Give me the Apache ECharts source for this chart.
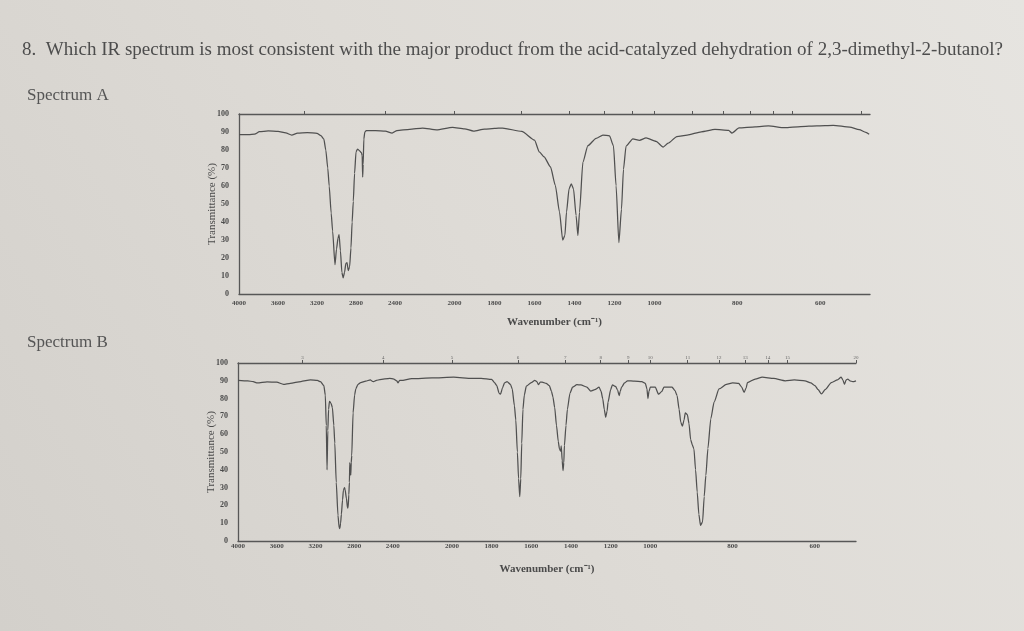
<!DOCTYPE html>
<html>
<head>
<meta charset="utf-8">
<script src="https://cdn.jsdelivr.net/npm/echarts@6/dist/echarts.min.js"></script>
<style>
html,body{margin:0;padding:0;background:#dedbd6;}
#chart{width:1024px;height:631px;}
</style>
</head>
<body>
<div id="chart"></div>
<script>
// ---------------- text ----------------
const questionText = "8.  Which IR spectrum is most consistent with the major product from the acid-catalyzed dehydration of 2,3-dimethyl-2-butanol?";
const panelTitles = ["Spectrum A", "Spectrum B"];
const xAxisName = "Wavenumber (cm\u207B\u00B9)";
const yAxisName = "Transmittance (%)";

// ---------------- tick labels ----------------
const wavenumberTicks = [4000, 3600, 3200, 2800, 2400, 2000, 1800, 1600, 1400, 1200, 1000, 800, 600];
const micronTicks = [3, 4, 5, 6, 7, 8, 9, 10, 11, 12, 13, 14, 15, 20];

// ---------------- data: Spectrum A ----------------
const specA_wn = [4000, 3900, 3840, 3790, 3700, 3600, 3520, 3460, 3400, 3300, 3200, 3160, 3130, 3110, 3090, 3075, 3055, 3040,
  3016, 3000, 2985, 2974, 2960, 2945, 2932, 2918, 2904, 2892, 2880, 2866, 2852, 2840, 2828, 2815, 2800, 2785, 2772, 2745,
  2737, 2732, 2727, 2720, 2710, 2696, 2600, 2500, 2430, 2380, 2250, 2160, 2090, 2010, 1950, 1905, 1850, 1800, 1760,
  1664, 1600, 1576, 1552, 1520, 1496, 1475, 1459, 1448, 1440, 1427, 1416, 1405, 1392, 1383, 1375, 1358, 1333, 1292,
  1258, 1225, 1205, 1192, 1178, 1165, 1155, 1142, 1108, 1075, 1042, 996, 979, 967, 946, 921, 887, 854, 821, 813, 796,
  757, 725, 686, 647, 608, 569, 529, 506, 490, 482];
const specA_T = [88.5, 88.5, 88.8, 90.2, 90.6, 90.4, 89.5, 88.3, 89.4, 89.6, 89.3, 88, 86, 80, 70, 60, 45, 35,
  16.3, 25, 31, 33, 24, 12, 9, 12, 17, 17.5, 13, 15, 25.6, 40, 51.5, 67, 79, 80.5, 80, 78.5,
  77, 65, 72, 86, 90, 90.7, 90.8, 90.5, 89.4, 90.8, 91.5, 92.2, 91.2, 92.6, 91.8, 90.5, 91.6, 92, 92.2,
  90.3, 85.5, 79, 76.2, 70.6, 60.4, 45.6, 29.9, 32.6, 45.5, 58.5, 61.2, 58.4, 43.6, 32.5, 45.4, 73.2, 82.4, 86.5,
  88.3, 87.9, 82.3, 60.1, 28.6, 47.1, 69.3, 82.2, 86.2, 85.4, 86.7, 84.8, 81.6, 83.8, 87.5, 88.3, 90.1, 91.4, 90.9, 89.4, 92.3,
  92.9, 93.4, 92.4, 93.0, 93.4, 93.7, 92.7, 91.3, 89.8, 88.8];

// ---------------- data: Spectrum B ----------------
const specB_wn = [4000, 3900, 3843, 3800, 3700, 3600, 3530, 3460, 3350, 3252, 3180, 3148, 3113, 3098, 3088, 3080, 3072, 3064,
  3055, 3040, 3025, 3010, 3000, 2985, 2967, 2955, 2948, 2940, 2932, 2920, 2911, 2900, 2894, 2880, 2868, 2862, 2855, 2849,
  2845, 2840, 2835, 2830, 2825, 2811, 2795, 2783, 2760, 2733, 2680, 2633, 2610, 2600, 2570, 2533, 2433, 2390, 2360, 2346,
  2330, 2314, 2205, 2100, 1991, 1900, 1852, 1800, 1785, 1774, 1762, 1755, 1745, 1735, 1722, 1705, 1696, 1685, 1678, 1670,
  1664, 1658, 1653, 1648, 1642, 1635, 1625, 1600, 1582, 1572, 1564, 1555, 1545, 1525, 1509, 1498, 1491, 1482, 1473, 1464,
  1458, 1452, 1449, 1444, 1440, 1436, 1433, 1425, 1418, 1405, 1392, 1370, 1350, 1320, 1300, 1280, 1258, 1248, 1240, 1232,
  1225, 1218, 1213, 1200, 1191, 1175, 1165, 1157, 1152, 1145, 1130, 1115, 1080, 1043, 1025, 1017, 1012, 1007, 1000, 988,
  980, 972, 967, 947, 940, 935, 930, 926, 922, 918, 915, 910, 906, 902, 898, 894, 890, 886, 882, 878, 873, 869, 865, 860,
  853, 845, 833, 815, 800, 785, 778, 772, 767, 764, 745, 728, 700, 672, 650, 624, 610, 600, 592, 584, 575, 560, 545, 536,
  532, 528, 524, 520, 515, 508, 500];
const specB_T = [90.3, 90, 89.5, 88.8, 89.4, 89.2, 88, 88.6, 89.6, 90.5, 90.2, 89.5, 87.3, 82, 65, 40, 62, 74,
  78.5, 77.5, 75, 65, 55, 33, 14.4, 7.5, 7, 10, 15, 23, 28.5, 30, 29, 24, 18.5, 19, 26, 33,
  44, 40, 37, 44, 48, 72, 82, 85.5, 88, 89, 89.8, 90.5, 89.7, 89.5, 90.2, 90.7, 91.4, 91, 90, 88.8,
  90.3, 90.2, 91.2, 91.6, 92, 91.4, 91.4, 90.8, 89, 87.3, 83, 82.5, 86, 88.8, 89.5, 88, 85.4, 76, 68, 50,
  35, 25, 35, 55, 74, 82, 87, 89, 90.2, 89.6, 87.8, 89.2, 89.3, 88.5, 87.3, 84, 81, 75, 65, 56,
  51.8, 50.5, 53.5, 45, 39.6, 44, 53.6, 65, 74, 83, 86.4, 87.8, 87.7, 86.5, 84.2, 85, 86.4, 84, 80, 74,
  69.5, 73, 78, 85, 87.7, 86.8, 84.8, 81.7, 84, 86.4, 88.8, 90, 89.8, 89.5, 88.5, 85.4, 80, 84, 86.4, 86.4,
  82.5, 84, 86.4, 86.4, 84.5, 81.7, 74, 66.7, 64.5, 68, 72, 71, 66, 57, 54, 51.8, 40, 27.5, 15, 8.8, 10.7, 25, 36.8, 52,
  68.6, 78, 85.4, 88, 88.8, 88.5, 86.5, 83.5, 86, 89, 91, 92, 91.3, 90, 90.5, 90, 88.8, 87.3, 85, 82.6, 85, 89, 90.5, 92,
  90.5, 88, 90.5, 91, 90, 89.5, 90];

// ---------------- axis scale (IR chart: expanded scale below 2200 and 1000 cm-1) ----------------
function toAxis(wn) {
  if (wn >= 2200) return 4000 - wn;
  if (wn >= 1000) return 1800 + 2.05 * (2200 - wn);
  return 1800 + 2.05 * 1200 + 4.25 * (1000 - wn);
}
function fromAxis(t) {
  if (t <= 1800) return 4000 - t;
  t -= 1800;
  if (t <= 2460) return 2200 - t / 2.05;
  t -= 2460;
  return 1000 - t / 4.25;
}

const serif = '"Liberation Serif","Times New Roman",serif';
const inkAxis = '#575757';
const inkText = '#4a4a4a';
const inkCurve = '#505050';

const panels = [
  { wn: specA_wn, T: specA_T, minWn: 480, grid: { left: 239, top: 114, width: 631, height: 180 },
    labelMargin: 6, nameGap: 23, micronLabels: false },
  { wn: specB_wn, T: specB_T, minWn: 500, grid: { left: 238, top: 363, width: 618, height: 178 },
    labelMargin: 2, nameGap: 23, micronLabels: true }
];

const grids = [], xAxes = [], yAxes = [], series = [];
panels.forEach((p, i) => {
  grids.push(Object.assign({ containLabel: false }, p.grid));
  const maxT = toAxis(p.minWn);
  // bottom wavenumber axis
  xAxes.push({
    type: 'value', gridIndex: i, min: 0, max: maxT, position: 'bottom',
    axisLine: { show: true, onZero: false, lineStyle: { color: inkAxis, width: 1.3 } },
    axisTick: { show: false },
    splitLine: { show: false },
    axisLabel: {
      customValues: wavenumberTicks.map(toAxis),
      formatter: v => String(Math.round(fromAxis(v) / 100) * 100),
      fontFamily: serif, fontSize: 7, fontWeight: 'bold', color: inkText, margin: p.labelMargin
    },
    name: xAxisName, nameLocation: 'middle', nameGap: p.nameGap, nameMoveOverlap: false,
    nameTextStyle: { fontFamily: serif, fontSize: 11, fontWeight: 'bold', color: inkText }
  });
  // top micron axis (frame line at 100 %)
  xAxes.push({
    type: 'value', gridIndex: i, min: 0, max: maxT, position: 'top',
    axisLine: { show: true, onZero: false, lineStyle: { color: inkAxis, width: 1.3 } },
    axisTick: { show: true, customValues: micronTicks.map(m => toAxis(10000 / m)), length: 3,
      lineStyle: { color: inkAxis, width: 1 } },
    splitLine: { show: false },
    axisLabel: {
      show: p.micronLabels,
      customValues: micronTicks.map(m => toAxis(10000 / m)),
      formatter: v => String(Math.round(10000 / fromAxis(v))),
      fontFamily: serif, fontSize: 5, color: '#666', margin: 3
    }
  });
  yAxes.push({
    type: 'value', gridIndex: i, min: 0, max: 100, interval: 10,
    axisLine: { show: true, lineStyle: { color: inkAxis, width: 1.3 } },
    axisTick: { show: false },
    splitLine: { show: false },
    axisLabel: { fontFamily: serif, fontSize: 8, fontWeight: 'bold', color: inkText, margin: 10 },
    name: yAxisName, nameLocation: 'middle', nameGap: 21, nameRotate: 90, nameMoveOverlap: false,
    nameTextStyle: { fontFamily: serif, fontSize: 11, color: inkText }
  });
  series.push({
    type: 'line', xAxisIndex: i * 2, yAxisIndex: i,
    data: p.wn.map((w, k) => [toAxis(w), p.T[k]]),
    showSymbol: false, smooth: 0.2, smoothMonotone: 'x',
    lineStyle: { color: inkCurve, width: 1.25 },
    silent: true
  });
});

const titleStyle = (size, color) => ({ fontFamily: serif, fontSize: size, fontWeight: 'normal', color: color });

const chart = echarts.init(document.getElementById('chart'), null, { renderer: 'canvas' });
chart.setOption({
  animation: false,
  backgroundColor: new echarts.graphic.LinearGradient(0, 1, 1, 0, [
    { offset: 0, color: '#d3d0cb' },
    { offset: 0.5, color: '#dedbd6' },
    { offset: 1, color: '#e6e4e0' }
  ]),
  title: [
    { text: questionText, left: 22, top: 41, padding: 0, textStyle: titleStyle(19, '#4d4d4d') },
    { text: panelTitles[0], left: 27, top: 87, padding: 0, textStyle: titleStyle(17, '#555') },
    { text: panelTitles[1], left: 27, top: 334, padding: 0, textStyle: titleStyle(17, '#555') }
  ],
  grid: grids,
  xAxis: xAxes,
  yAxis: yAxes,
  series: series
});
</script>
</body>
</html>
